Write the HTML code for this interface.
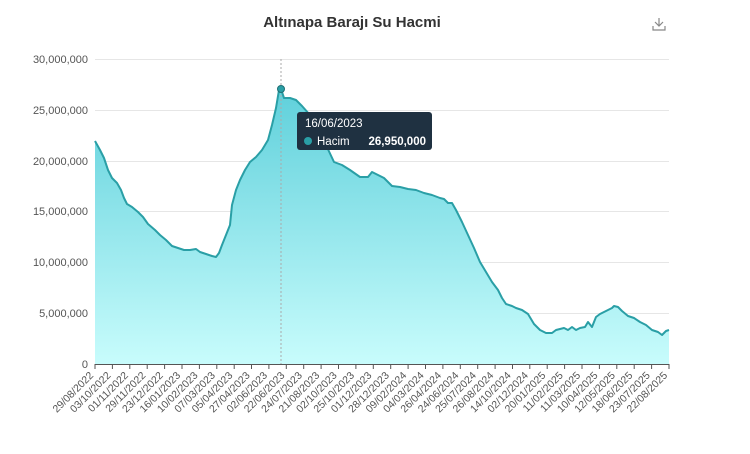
<!DOCTYPE html>
<html><head><meta charset="utf-8"><style>
body{margin:0;background:#fff;width:750px;height:449px;overflow:hidden;font-family:"Liberation Sans",sans-serif}
</style></head><body>
<svg width="750" height="449" xmlns="http://www.w3.org/2000/svg" font-family="Liberation Sans, sans-serif">
<defs><linearGradient id="g" x1="0" y1="0" x2="0" y2="1"><stop offset="0" stop-color="#5fd0db"/><stop offset="1" stop-color="#c8fcfc"/></linearGradient></defs>
<text x="352" y="27" text-anchor="middle" font-size="15" font-weight="bold" fill="#333">Altınapa Barajı Su Hacmi</text>
<g stroke="#888" stroke-width="1.2" fill="none"><path d="M659 18v8M655 22l4 4 4-4M653 26v4h12v-4"/></g>
<g stroke="#e6e6e6" stroke-width="1">
<line x1="95" x2="669" y1="59.5" y2="59.5"/><line x1="95" x2="669" y1="110.5" y2="110.5"/><line x1="95" x2="669" y1="161.5" y2="161.5"/><line x1="95" x2="669" y1="211.5" y2="211.5"/><line x1="95" x2="669" y1="262.5" y2="262.5"/><line x1="95" x2="669" y1="313.5" y2="313.5"/>
</g>
<g font-size="11" fill="#555" text-anchor="end">
<text x="88" y="63">30,000,000</text><text x="88" y="114">25,000,000</text><text x="88" y="165">20,000,000</text><text x="88" y="215">15,000,000</text><text x="88" y="266">10,000,000</text><text x="88" y="317">5,000,000</text><text x="88" y="368">0</text>
</g>
<path fill="url(#g)" d="M95,141 L100,150 104,158 108,170 112,178 117,183 121,190 124,198 127,204 132,207 138,212 143,217 148,224 155,230 160,235 166,240 172,246 178,248 184,250 190,250 196,249 200,252 206,254 212,256 216,257 219,253 222,245 226,235 230,225 232,205 236,190 240,180 245,170 250,162 256,157 262,150 268,140 272,125 276,108 279,90 281,89 284,98 290,98 296,100 302,106 310,115 318,130 326,145 334,162 342,165 350,170 360,177 368,177 372,172 376,174 384,178 392,186 400,187 408,189 416,190 424,193 432,195 440,198 444,199 448,203 452,203 456,210 462,222 468,235 474,248 480,262 486,272 492,282 498,290 502,298 506,304 512,306 516,308 522,310 528,314 534,324 540,330 546,333 552,333 556,330 560,329 564,328 568,330 572,327 576,330 580,328 585,327 588,322 592,327 596,317 600,314 606,311 612,308 614,306 618,307 622,311 628,316 634,318 640,322 646,325 652,330 658,332 662,335 666,331 669,330 L669,364 L95,364 Z"/>
<path fill="none" stroke="#2a9fa6" stroke-width="2" stroke-linejoin="round" d="M95,141 L100,150 104,158 108,170 112,178 117,183 121,190 124,198 127,204 132,207 138,212 143,217 148,224 155,230 160,235 166,240 172,246 178,248 184,250 190,250 196,249 200,252 206,254 212,256 216,257 219,253 222,245 226,235 230,225 232,205 236,190 240,180 245,170 250,162 256,157 262,150 268,140 272,125 276,108 279,90 281,89 284,98 290,98 296,100 302,106 310,115 318,130 326,145 334,162 342,165 350,170 360,177 368,177 372,172 376,174 384,178 392,186 400,187 408,189 416,190 424,193 432,195 440,198 444,199 448,203 452,203 456,210 462,222 468,235 474,248 480,262 486,272 492,282 498,290 502,298 506,304 512,306 516,308 522,310 528,314 534,324 540,330 546,333 552,333 556,330 560,329 564,328 568,330 572,327 576,330 580,328 585,327 588,322 592,327 596,317 600,314 606,311 612,308 614,306 618,307 622,311 628,316 634,318 640,322 646,325 652,330 658,332 662,335 666,331 669,330"/>
<line x1="281" x2="281" y1="59" y2="364" stroke="#aaa" stroke-dasharray="2,2"/>
<circle cx="281" cy="89" r="3.5" fill="#2a9fa6" stroke="#1d6f74"/>
<line x1="95" x2="669" y1="364.5" y2="364.5" stroke="#555"/>
<g stroke="#555">
<path d="M95 364v5M112.4 364v5M129.8 364v5M147.2 364v5M164.6 364v5M182 364v5M199.4 364v5M216.8 364v5M234.2 364v5M251.5 364v5M268.9 364v5M286.3 364v5M303.7 364v5M321.1 364v5M338.5 364v5M355.9 364v5M373.3 364v5M390.7 364v5M408.1 364v5M425.5 364v5M442.9 364v5M460.3 364v5M477.7 364v5M495.1 364v5M512.5 364v5M529.8 364v5M547.2 364v5M564.6 364v5M582 364v5M599.4 364v5M616.8 364v5M634.2 364v5M651.6 364v5M669 364v5"/>
</g>
<g font-size="10.5" fill="#555" text-anchor="end">
<text transform="translate(94,376) rotate(-45)">29/08/2022</text>
<text transform="translate(111.4,376) rotate(-45)">03/10/2022</text>
<text transform="translate(128.8,376) rotate(-45)">01/11/2022</text>
<text transform="translate(146.2,376) rotate(-45)">29/11/2022</text>
<text transform="translate(163.6,376) rotate(-45)">23/12/2022</text>
<text transform="translate(181,376) rotate(-45)">16/01/2023</text>
<text transform="translate(198.4,376) rotate(-45)">10/02/2023</text>
<text transform="translate(215.8,376) rotate(-45)">07/03/2023</text>
<text transform="translate(233.2,376) rotate(-45)">05/04/2023</text>
<text transform="translate(250.5,376) rotate(-45)">27/04/2023</text>
<text transform="translate(267.9,376) rotate(-45)">02/06/2023</text>
<text transform="translate(285.3,376) rotate(-45)">22/06/2023</text>
<text transform="translate(302.7,376) rotate(-45)">24/07/2023</text>
<text transform="translate(320.1,376) rotate(-45)">21/08/2023</text>
<text transform="translate(337.5,376) rotate(-45)">02/10/2023</text>
<text transform="translate(354.9,376) rotate(-45)">25/10/2023</text>
<text transform="translate(372.3,376) rotate(-45)">01/12/2023</text>
<text transform="translate(389.7,376) rotate(-45)">28/12/2023</text>
<text transform="translate(407.1,376) rotate(-45)">09/02/2024</text>
<text transform="translate(424.5,376) rotate(-45)">04/03/2024</text>
<text transform="translate(441.9,376) rotate(-45)">26/04/2024</text>
<text transform="translate(459.3,376) rotate(-45)">24/06/2024</text>
<text transform="translate(476.7,376) rotate(-45)">25/07/2024</text>
<text transform="translate(494.1,376) rotate(-45)">26/08/2024</text>
<text transform="translate(511.5,376) rotate(-45)">14/10/2024</text>
<text transform="translate(528.8,376) rotate(-45)">02/12/2024</text>
<text transform="translate(546.2,376) rotate(-45)">20/01/2025</text>
<text transform="translate(563.6,376) rotate(-45)">11/02/2025</text>
<text transform="translate(581,376) rotate(-45)">11/03/2025</text>
<text transform="translate(598.4,376) rotate(-45)">10/04/2025</text>
<text transform="translate(615.8,376) rotate(-45)">12/05/2025</text>
<text transform="translate(633.2,376) rotate(-45)">18/06/2025</text>
<text transform="translate(650.6,376) rotate(-45)">23/07/2025</text>
<text transform="translate(668,376) rotate(-45)">22/08/2025</text>
</g>
<rect x="297" y="112" width="135" height="38" rx="3" fill="#1f3141"/>
<text x="305" y="127" font-size="11.5" fill="#fff">16/06/2023</text>
<circle cx="308" cy="141" r="4" fill="#2a9fa6"/>
<text x="317" y="145" font-size="11.5" fill="#fff">Hacim</text>
<text x="426" y="145" font-size="11.5" font-weight="bold" fill="#fff" text-anchor="end">26,950,000</text>
</svg>
</body></html>
